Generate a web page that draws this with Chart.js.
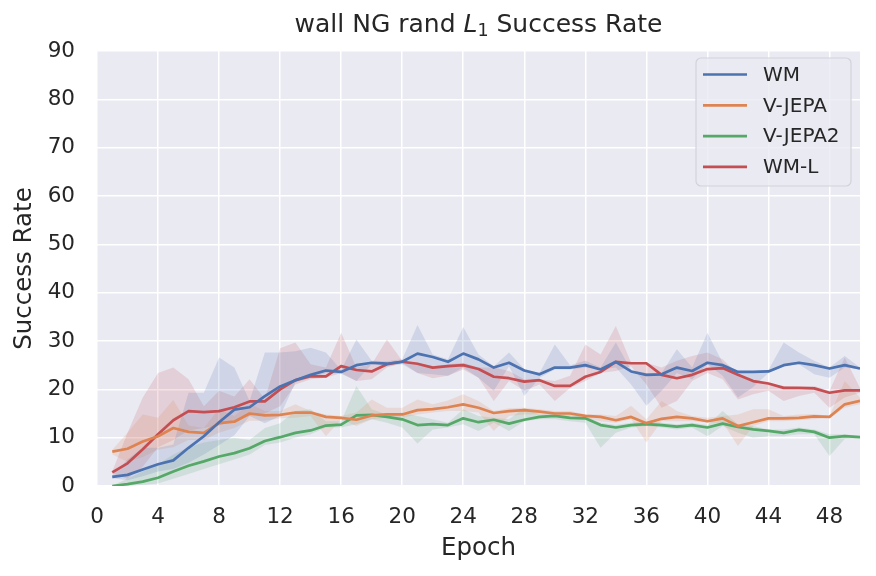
<!DOCTYPE html>
<html>
<head>
<meta charset="utf-8">
<script src="https://cdn.jsdelivr.net/npm/chart.js@4.4.1/dist/chart.umd.min.js"></script>
<style>
  html, body { margin: 0; padding: 0; background: #fff; }
  #wrap { width: 876px; height: 576px; position: relative; }
</style>
</head>
<body>
<div id="wrap"><canvas id="chart"></canvas></div>
<script>
// epochs 1..50
const epochs = [1, 2, 3, 4, 5, 6, 7, 8, 9, 10, 11, 12, 13, 14, 15, 16, 17, 18, 19, 20,
  21, 22, 23, 24, 25, 26, 27, 28, 29, 30, 31, 32, 33, 34, 35, 36, 37, 38, 39, 40,
  41, 42, 43, 44, 45, 46, 47, 48, 49, 50];

const wmMean = [1.9, 2.3, 3.4, 4.5, 5.3, 7.9, 10.3, 13.2, 15.8, 16.3, 18.6, 20.6, 21.9, 23.0, 23.9, 23.6, 25.0, 25.5, 25.3, 25.7,
  27.4, 26.7, 25.7, 27.4, 26.2, 24.5, 25.5, 23.9, 23.1, 24.5, 24.5, 25.0, 24.1, 25.7, 23.7, 23.0, 23.1, 24.5, 23.8, 25.5,
  25.0, 23.6, 23.6, 23.7, 25.0, 25.5, 25.0, 24.3, 25.0, 24.3];
const wmUpper = [2.2, 5.5, 7.9, 7.9, 8.6, 19.3, 19.3, 26.6, 24.5, 17.6, 27.6, 27.6, 27.9, 28.6, 27.6, 24.0, 30.3, 25.9, 25.8, 26.2,
  33.3, 27.2, 26.2, 32.9, 27.2, 24.8, 27.6, 24.2, 23.4, 29.3, 25.0, 25.9, 24.5, 29.7, 24.0, 23.4, 23.4, 28.3, 24.5, 31.7,
  25.5, 23.8, 23.8, 24.0, 29.7, 27.6, 25.9, 24.5, 26.9, 24.5];
const wmLower = [1.6, 1.2, 2.0, 3.0, 3.5, 4.8, 6.5, 8.5, 10.5, 14.5, 13.0, 14.5, 21.4, 22.4, 23.4, 23.2, 21.7, 25.2, 24.8, 25.2,
  23.4, 23.1, 22.8, 24.5, 22.4, 19.7, 24.8, 18.6, 22.4, 24.1, 24.1, 24.5, 24.1, 24.5, 21.0, 16.6, 19.7, 23.4, 22.1, 25.2,
  22.8, 18.3, 20.5, 23.4, 24.8, 25.2, 23.1, 22.4, 24.5, 24.1];

const vjMean = [7.1, 7.7, 9.2, 10.3, 12.0, 11.2, 11.0, 13.0, 13.3, 15.0, 14.6, 14.7, 15.2, 15.2, 14.3, 14.1, 13.7, 14.6, 14.8, 14.8,
  15.7, 15.9, 16.3, 16.9, 16.2, 15.1, 15.5, 15.7, 15.4, 15.0, 15.0, 14.5, 14.3, 13.6, 14.3, 13.0, 13.9, 14.3, 14.0, 13.4,
  14.0, 12.4, 13.2, 14.0, 14.0, 14.1, 14.4, 14.3, 16.9, 17.6];
const vjUpper = [7.5, 11.0, 14.8, 14.1, 17.8, 12.5, 12.0, 16.0, 14.5, 17.0, 15.5, 15.5, 16.9, 15.5, 14.8, 14.5, 15.2, 17.9, 16.2, 16.2,
  17.9, 16.9, 17.7, 19.0, 17.6, 15.5, 16.1, 16.2, 15.9, 15.5, 15.5, 14.8, 14.8, 14.5, 16.6, 13.8, 17.6, 15.5, 14.5, 14.1,
  14.5, 14.8, 15.9, 15.9, 14.5, 14.8, 14.9, 14.5, 21.7, 18.3];
const vjLower = [6.5, 5.0, 6.0, 7.5, 8.0, 9.5, 9.5, 11.0, 12.0, 13.5, 13.5, 14.0, 14.1, 14.5, 10.3, 13.8, 12.4, 13.8, 14.1, 14.1,
  14.8, 15.2, 15.5, 15.5, 15.2, 11.4, 14.5, 14.8, 14.8, 14.5, 14.5, 14.1, 13.4, 13.1, 13.8, 9.0, 13.4, 13.4, 13.4, 13.1,
  13.1, 8.3, 12.4, 13.4, 13.4, 13.6, 13.8, 14.1, 16.2, 16.9];

const vj2Mean = [0.0, 0.4, 0.9, 1.7, 3.0, 4.2, 5.1, 6.1, 6.8, 7.8, 9.3, 10.1, 11.0, 11.5, 12.5, 12.7, 14.6, 14.7, 14.3, 13.8,
  12.6, 12.8, 12.6, 14.0, 13.2, 13.7, 12.9, 13.7, 14.3, 14.5, 14.1, 14.0, 12.6, 12.1, 12.6, 12.8, 12.6, 12.3, 12.6, 12.1,
  12.9, 12.2, 11.7, 11.4, 11.0, 11.6, 11.2, 10.0, 10.3, 10.1];
const vj2Upper = [0.1, 1.5, 3.0, 4.5, 6.5, 8.0, 9.0, 9.5, 10.0, 9.5, 12.0, 13.0, 15.5, 15.9, 13.4, 13.4, 20.7, 15.9, 14.8, 15.2,
  14.5, 13.8, 13.1, 15.9, 14.5, 14.1, 13.8, 16.2, 14.8, 14.8, 14.6, 14.5, 13.1, 12.6, 13.1, 13.4, 13.1, 12.8, 13.1, 12.6,
  15.5, 12.8, 12.4, 11.7, 11.7, 12.1, 11.7, 10.7, 10.7, 10.3];
const vj2Lower = [0.0, 0.0, 0.2, 0.5, 1.5, 2.5, 3.5, 4.5, 5.5, 6.5, 8.5, 9.0, 10.0, 10.7, 12.1, 12.1, 12.8, 13.8, 13.1, 12.1,
  8.8, 11.7, 12.1, 12.8, 11.4, 13.1, 11.4, 13.4, 13.8, 13.8, 13.4, 13.1, 7.9, 11.0, 12.1, 12.4, 12.1, 11.7, 12.1, 10.3,
  12.4, 11.0, 10.0, 10.3, 10.3, 10.7, 10.7, 6.2, 9.7, 9.9];

const wmlMean = [2.8, 4.7, 7.6, 10.7, 13.6, 15.5, 15.3, 15.5, 16.3, 17.5, 17.5, 20.0, 21.9, 22.7, 22.7, 24.8, 24.0, 23.7, 25.2, 25.7,
  25.3, 24.5, 24.8, 25.0, 24.2, 22.6, 22.3, 21.6, 21.9, 20.7, 20.7, 22.6, 23.6, 25.7, 25.4, 25.4, 23.0, 22.3, 23.0, 24.2,
  24.4, 23.0, 21.7, 21.2, 20.3, 20.3, 20.2, 19.3, 19.8, 19.8];
const wmlUpper = [3.0, 11.0, 18.3, 23.4, 24.5, 22.1, 16.5, 19.7, 18.5, 22.1, 18.0, 28.5, 29.7, 25.2, 24.5, 31.7, 24.5, 25.2, 30.3, 25.9,
  25.5, 24.8, 25.2, 25.5, 24.5, 24.5, 23.8, 22.1, 22.1, 21.7, 22.8, 29.3, 27.2, 33.1, 25.5, 25.5, 24.5, 25.9, 26.9, 27.6,
  26.2, 23.1, 21.7, 21.2, 20.7, 20.5, 20.7, 19.7, 26.6, 20.3];
const wmlLower = [2.6, 1.5, 4.0, 8.0, 9.5, 11.5, 12.0, 12.5, 13.5, 14.5, 15.0, 16.5, 21.0, 22.1, 22.4, 23.4, 21.7, 22.1, 24.5, 25.5,
  23.4, 22.3, 22.8, 24.1, 22.4, 17.6, 21.7, 19.7, 21.0, 17.6, 20.3, 21.7, 23.4, 23.8, 24.8, 21.0, 16.2, 17.6, 21.7, 23.4,
  22.1, 17.9, 19.0, 19.7, 17.6, 18.6, 19.3, 16.2, 18.3, 19.3];

const seriesNames = ['WM', 'V-JEPA', 'V-JEPA2', 'WM-L'];
const seriesColors = ['#4C72B0', '#DD8452', '#55A868', '#C44E52'];
const xTicks = [0, 4, 8, 12, 16, 20, 24, 28, 32, 36, 40, 44, 48];
const yTicks = [0, 10, 20, 30, 40, 50, 60, 70, 80, 90];

const means = [wmMean, vjMean, vj2Mean, wmlMean];
const uppers = [wmUpper, vjUpper, vj2Upper, wmlUpper];
const lowers = [wmLower, vjLower, vj2Lower, wmlLower];

const TEXT = '#262626';
const FONT = "'DejaVu Sans', sans-serif";

function pts(arr) {
  return epochs.map((e, i) => ({ x: e, y: arr[i] }));
}

function rgba(hex, a) {
  const n = parseInt(hex.slice(1), 16);
  return `rgba(${(n >> 16) & 255},${(n >> 8) & 255},${n & 255},${a})`;
}

const datasets = [];
// shaded min/max bands first
seriesNames.forEach((name, i) => {
  datasets.push({
    label: name + ' upper', data: pts(uppers[i]),
    borderWidth: 0, pointRadius: 0, fill: false, order: 2
  });
  datasets.push({
    label: name + ' lower', data: pts(lowers[i]),
    borderWidth: 0, pointRadius: 0, fill: '-1',
    backgroundColor: rgba(seriesColors[i], 0.17), order: 2
  });
});
seriesNames.forEach((name, i) => {
  datasets.push({
    label: name, data: pts(means[i]),
    borderColor: seriesColors[i], borderWidth: 2.7,
    pointRadius: 0, fill: false, order: 1,
    borderJoinStyle: 'round'
  });
});

// axes background
const bgPlugin = {
  id: 'bg',
  beforeDraw(chart) {
    const { ctx, chartArea: a } = chart;
    ctx.save();
    ctx.fillStyle = '#EAEAF2';
    ctx.fillRect(a.left, a.top, a.right - a.left, a.bottom - a.top);
    ctx.restore();
  }
};

// title with italic L and subscript 1
const titlePlugin = {
  id: 'mathTitle',
  afterDraw(chart) {
    const { ctx, chartArea: a } = chart;
    const parts = [
      { t: 'wall NG rand ', f: `25px ${FONT}`, dy: 0 },
      { t: 'L', f: `italic 25px ${FONT}`, dy: 0 },
      { t: '1', f: `17.5px ${FONT}`, dy: 4 },
      { t: ' Success Rate', f: `25px ${FONT}`, dy: 0 }
    ];
    ctx.save();
    let w = 0;
    parts.forEach(p => { ctx.font = p.f; p.w = ctx.measureText(p.t).width; w += p.w; });
    let x = (a.left + a.right) / 2 - w / 2;
    ctx.fillStyle = TEXT;
    ctx.textBaseline = 'alphabetic';
    parts.forEach(p => {
      ctx.font = p.f;
      ctx.fillText(p.t, x, 32 + p.dy);
      x += p.w;
    });
    ctx.restore();
  }
};

// legend box in the upper right of the axes
const legendPlugin = {
  id: 'boxLegend',
  afterDatasetsDraw(chart) {
    const { ctx } = chart;
    const bx = 696, by = 58, bw = 155, bh = 128;
    ctx.save();
    ctx.beginPath();
    ctx.roundRect(bx, by, bw, bh, 5);
    ctx.fillStyle = 'rgba(234,234,242,0.8)';
    ctx.fill();
    ctx.strokeStyle = '#d2d2da';
    ctx.lineWidth = 1.2;
    ctx.stroke();
    ctx.font = `20px ${FONT}`;
    ctx.textBaseline = 'middle';
    seriesNames.forEach((name, i) => {
      const y = 74.5 + i * 30.8;
      ctx.strokeStyle = seriesColors[i];
      ctx.lineWidth = 2.7;
      ctx.beginPath();
      ctx.moveTo(703, y);
      ctx.lineTo(747, y);
      ctx.stroke();
      ctx.fillStyle = TEXT;
      ctx.fillText(name, 763, y + 1);
    });
    ctx.restore();
  }
};

new Chart(document.getElementById('chart'), {
  type: 'line',
  data: { datasets },
  options: {
    responsive: true,
    maintainAspectRatio: false,
    animation: false,
    layout: { padding: { left: 8, right: 16, top: 51, bottom: 8 } },
    plugins: {
      legend: { display: false },
      title: { display: false },
      tooltip: { enabled: false }
    },
    scales: {
      x: {
        type: 'linear', min: 0, max: 50,
        afterBuildTicks: s => { s.ticks = xTicks.map(v => ({ value: v })); },
        afterFit: s => { s.height = 82; },
        grid: { color: '#ffffff', lineWidth: 1.5, drawTicks: false },
        border: { display: false },
        ticks: { color: TEXT, font: { family: FONT, size: 21.5 }, padding: 19, maxRotation: 0 },
        title: { display: true, text: 'Epoch', color: TEXT, font: { family: FONT, size: 24.5 }, padding: { top: 0, bottom: 5 } }
      },
      y: {
        min: 0, max: 90,
        afterBuildTicks: s => { s.ticks = yTicks.map(v => ({ value: v })); },
        afterFit: s => { s.width = 89; },
        grid: { color: '#ffffff', lineWidth: 1.5, drawTicks: false },
        border: { display: false },
        ticks: { color: TEXT, font: { family: FONT, size: 21.5 }, padding: 22 },
        title: { display: true, text: 'Success Rate', color: TEXT, font: { family: FONT, size: 24.5 }, padding: { top: 2, bottom: 0 } }
      }
    }
  },
  plugins: [bgPlugin, titlePlugin, legendPlugin]
});
</script>
</body>
</html>
